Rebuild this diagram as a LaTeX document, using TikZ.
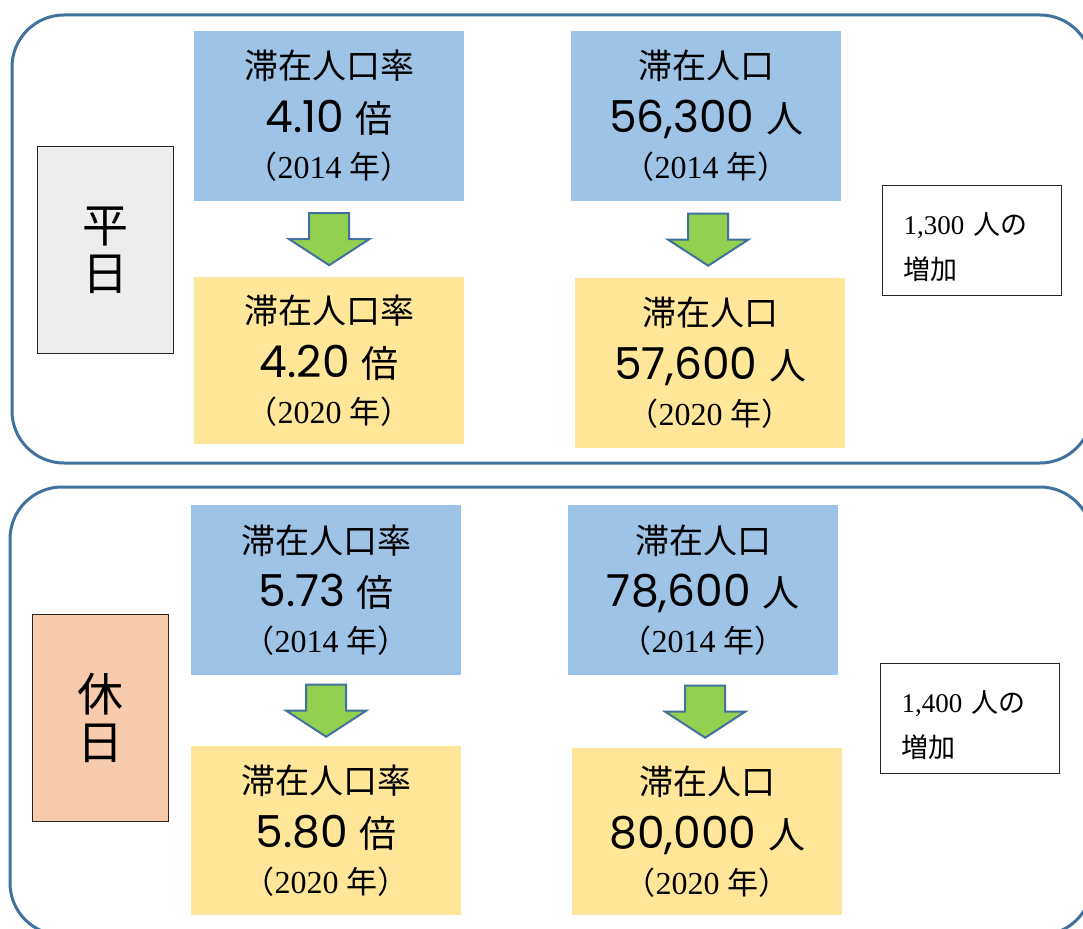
\documentclass[tikz,border=0pt]{standalone}
\usepackage{fontspec}
\setmainfont{Liberation Serif}
\newfontfamily\jpfont{Noto Sans CJK JP}
\newfontfamily\numfont{Poppins}
\usepackage{tikz}
\usetikzlibrary{calc}
\usepackage{xcolor}
\definecolor{frameblue}{HTML}{41719C}
\definecolor{boxblue}{HTML}{9DC3E6}
\definecolor{boxyellow}{HTML}{FFE699}
\definecolor{labelgray}{HTML}{EDEDED}
\definecolor{labelpeach}{HTML}{F8CBAD}
\definecolor{arrowgreen}{HTML}{92D050}

% value line and year line of a box
\newcommand{\statval}[2]{{\numfont\fontsize{44}{50}\selectfont #1 }{\jpfont\fontsize{37}{50}\selectfont #2}}
\newcommand{\statyear}[1]{{\jpfont\fontsize{31}{50}\selectfont （}{\rmfamily\fontsize{32}{50}\selectfont #1 }{\jpfont\fontsize{31}{50}\selectfont 年）}}

\tikzset{
  frame/.style={line width=3pt, frameblue, rounded corners=52pt},
  statbox/.style={anchor=north west, inner sep=0pt, minimum width=270, minimum height=170,
    align=center, font=\jpfont\fontsize{34}{50}\selectfont},
  daybox/.style={anchor=north west, inner sep=0pt, draw=black!85, line width=1.2pt,
    minimum width=136, minimum height=207, align=center, font=\jpfont\fontsize{46}{48}\selectfont},
  notebox/.style={anchor=north west, inner xsep=21pt, inner ysep=0pt, draw=black!85, line width=1.2pt,
    text width=137, minimum height=110, align=left, font=\jpfont\fontsize{27}{45}\selectfont}
}

\begin{document}
\begin{tikzpicture}[x=1pt, y=-1pt,
  greenarrow/.style={fill=arrowgreen, draw=frameblue, line width=2pt, line join=miter}]
  \useasboundingbox (0,0) rectangle (1083,928);
  \clip (0,0) rectangle (1083,928);

  % weekday
  \draw[frame] (12,15) rectangle (1092,463);
  \node[daybox, fill=labelgray] (wdlabel) at (37,146) {平\\日};
  \node[statbox, fill=boxblue] (wdrate14) at (194,31)
    {滞在人口率\\[4pt]\statval{4.10}{倍}\\[-4pt]\statyear{2014}};
  \node[statbox, fill=boxyellow, minimum height=167] (wdrate20) at (194,277)
    {滞在人口率\\[4pt]\statval{4.20}{倍}\\[-4pt]\statyear{2020}};
  \node[statbox, fill=boxblue] (wdpop14) at (571,31)
    {滞在人口\\[4pt]\statval{56,300}{人}\\[-4pt]\statyear{2014}};
  \node[statbox, fill=boxyellow] (wdpop20) at (575,278)
    {滞在人口\\[4pt]\statval{57,600}{人}\\[-4pt]\statyear{2020}};
  \node[notebox] (wdnote) at (882,185)
    {\rule{0pt}{34pt}{\rmfamily 1,300 }人の\\増加};

  % weekend
  \draw[frame] (10,487) rectangle (1092,935);
  \node[daybox, fill=labelpeach] (welabel) at (32,614) {休\\日};
  \node[statbox, fill=boxblue] (werate14) at (191,505)
    {滞在人口率\\[4pt]\statval{5.73}{倍}\\[-4pt]\statyear{2014}};
  \node[statbox, fill=boxyellow, minimum height=169] (werate20) at (191,746)
    {滞在人口率\\[4pt]\statval{5.80}{倍}\\[-4pt]\statyear{2020}};
  \node[statbox, fill=boxblue] (wepop14) at (568,505)
    {滞在人口\\[4pt]\statval{78,600}{人}\\[-4pt]\statyear{2014}};
  \node[statbox, fill=boxyellow, minimum height=167] (wepop20) at (572,748)
    {滞在人口\\[4pt]\statval{80,000}{人}\\[-4pt]\statyear{2020}};
  \node[notebox, minimum width=177] (wenote) at (880,663)
    {\rule{0pt}{34pt}{\rmfamily 1,400 }人の\\増加};

  % block arrows
  \foreach \a/\b in {wdrate14/wdrate20, wdpop14/wdpop20, werate14/werate20, wepop14/wepop20} {
    \coordinate (m) at ($(\a.south)!0.5!(\b.north)$);
    \draw[greenarrow] ($(m)+(-20,-26)$) -- ($(m)+(20,-26)$) -- ($(m)+(20,0)$) -- ($(m)+(40,0)$)
      -- ($(m)+(0,26)$) -- ($(m)+(-40,0)$) -- ($(m)+(-20,0)$) -- cycle;
  }
\end{tikzpicture}
\end{document}
